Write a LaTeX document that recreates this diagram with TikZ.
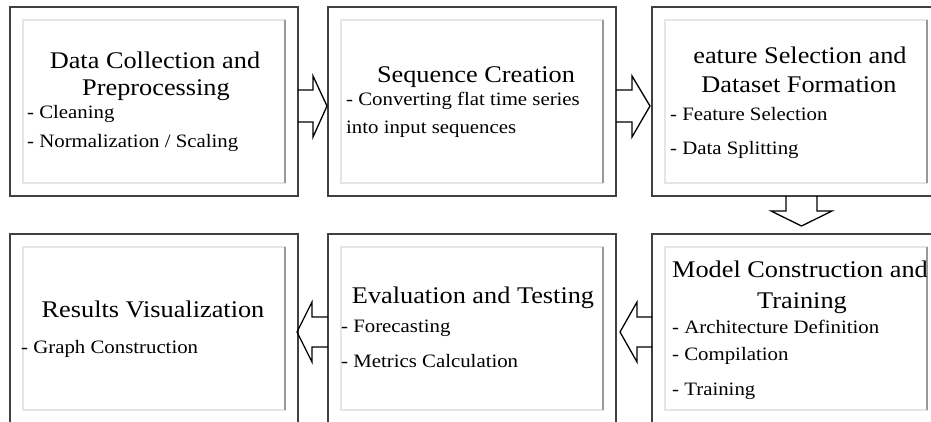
\documentclass[tikz,border=0pt]{standalone}
\usepackage{fontspec}
\setmainfont{Liberation Serif}[FakeStretch=1.1]
\usetikzlibrary{calc}
\tikzset{
  outerbox/.style={draw=black!75, line width=2bp, minimum width=288bp, minimum height=189bp, inner sep=0pt, outer sep=0pt},
  innerbox/.style={draw=black!10, line width=1.6bp},
  innershade/.style={draw=black!40, line width=2bp},
  blockarrow/.style={draw=black, line width=1.3bp, line join=miter},
  title/.style={inner sep=0pt, anchor=base, font=\fontsize{24}{28}\selectfont},
  item/.style={inner sep=0pt, anchor=base west, font=\fontsize{19}{22}\selectfont}
}
\begin{document}
\begin{tikzpicture}[x=1bp, y=-1bp]
\useasboundingbox (0,0) rectangle (931,421);
\clip (0,0) rectangle (931,421);
\fill[white] (0,0) rectangle (931,421);

% outer boxes
\node[outerbox] (b1) at (154,101.5) {};
\node[outerbox] (b2) at (472,101.5) {};
\node[outerbox] (b3) at (796,101.5) {};
\node[outerbox] (b4) at (154,328.5) {};
\node[outerbox] (b5) at (472,328.5) {};
\node[outerbox] (b6) at (796,328.5) {};

% inner frames
\foreach \b in {b1,b2,b3,b4,b5,b6}{
  \draw[innerbox] ($(\b.north west)+(13,13)$) rectangle ($(\b.south east)+(-13,-13)$);
  \draw[innershade] ($(\b.north east)+(-13,13)$) -- ($(\b.south east)+(-13,-13)$);
}

% block arrows
\draw[blockarrow] ($(b1.east)+(0,-11.5)$) -- ++(15,0) -- ++(0,-14) -- ($(b2.west)+(-1,4.5)$) -- ($(b1.east)+(15,35.5)$) -- ++(0,-15) -- ++(-15,0);
\draw[blockarrow] ($(b2.east)+(0,-11.5)$) -- ++(16,0) -- ++(0,-14) -- ($(b3.west)+(-2,4.5)$) -- ($(b2.east)+(16,35.5)$) -- ++(0,-15) -- ++(-16,0);
\draw[blockarrow] ($(b3.south)+(-10,0)$) -- ++(0,15) -- ++(-15,0) -- ($(b3.south)+(5.5,30)$) -- ($(b3.south)+(36,15)$) -- ++(-15,0) -- ++(0,-15);
\draw[blockarrow] ($(b6.west)+(0,-11.5)$) -- ++(-15,0) -- ++(0,-15) -- ($(b5.east)+(4,3.5)$) -- ($(b6.west)+(-15,33.5)$) -- ++(0,-15) -- ++(15,0);
\draw[blockarrow] ($(b5.west)+(0,-11.5)$) -- ++(-16,0) -- ++(0,-15) -- ($(b4.east)+(-1,3.5)$) -- ($(b5.west)+(-16,33.5)$) -- ++(0,-15) -- ++(16,0);

% box 1
\node[title] (t1a) at (155,68) {Data Collection and};
\node[title] (t1b) at (156,95) {Preprocessing};
\node[item] (i1a) at (27,118) {- Cleaning};
\node[item] (i1b) at (27,147) {- Normalization / Scaling};

% box 2
\node[title] (t2a) at (476,82) {Sequence Creation};
\node[item] (i2a) at (346,105) {- Converting flat time series};
\node[item] (i2b) at (346,133) {into input sequences};

% box 3
\node[title] (t3a) at (800,63) {eature Selection and};
\node[title] (t3b) at (799,92) {Dataset Formation};
\node[item] (i3a) at (670,120) {- Feature Selection};
\node[item] (i3b) at (670,154) {- Data Splitting};

% box 4
\node[title] (t4a) at (153,317) {Results Visualization};
\node[item] (i4a) at (21,353) {- Graph Construction};

% box 5
\node[title] (t5a) at (473,303) {Evaluation and Testing};
\node[item] (i5a) at (341,332) {- Forecasting};
\node[item] (i5b) at (341,367) {- Metrics Calculation};

% box 6
\node[title] (t6a) at (800,277) {Model Construction and};
\node[title] (t6b) at (802,308) {Training};
\node[item] (i6a) at (672,333) {- Architecture Definition};
\node[item] (i6b) at (672,360) {- Compilation};
\node[item] (i6c) at (672,395) {- Training};
\end{tikzpicture}
\end{document}
